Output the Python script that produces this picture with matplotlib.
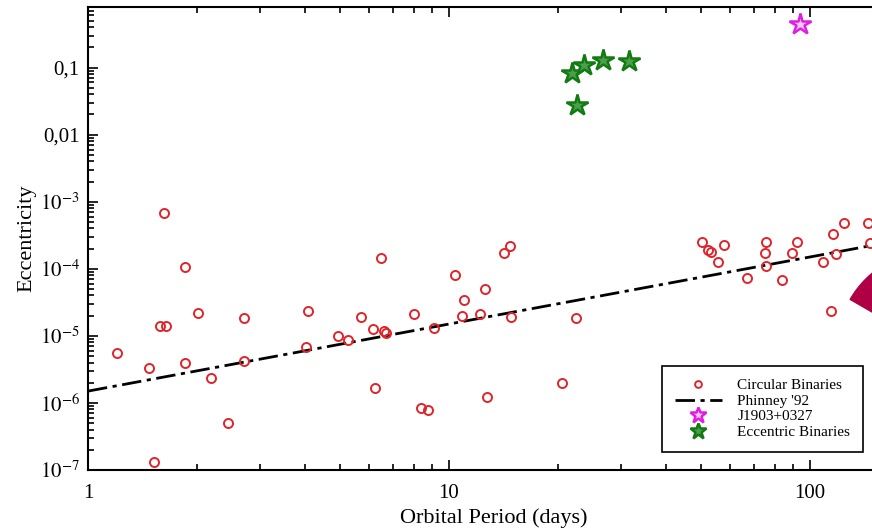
import math
import matplotlib
matplotlib.use("Agg")
import matplotlib.pyplot as plt
from matplotlib.patches import Wedge
from matplotlib.transforms import IdentityTransform
from matplotlib.ticker import LogLocator, FuncFormatter, NullFormatter

plt.rcParams['font.family'] = ['Liberation Serif', 'DejaVu Serif']
plt.rcParams['mathtext.fontset'] = 'stix'

# circular binaries: orbital period (days), eccentricity
circ_p = [1.20, 1.48, 1.58, 1.64, 1.62, 1.86, 1.86, 2.02, 2.19, 2.44, 2.71, 2.71, 1.52,
          6.48, 10.4, 12.6, 11.0, 4.07, 5.71, 8.0, 10.86, 12.2, 14.85, 22.5, 4.02, 4.93,
          5.25, 6.16, 6.6, 6.7, 9.09, 6.24, 8.37, 8.75, 12.74, 20.6, 14.76, 14.2,
          50.2, 52.2, 53.2, 57.8, 55.6, 75.5, 75.0, 75.5, 66.9, 83.6, 92.0, 89.2,
          115.8, 124.2, 144.8, 146.5, 118.0, 108.7, 114.3]
circ_e = [5.6e-6, 3.3e-6, 1.41e-5, 1.41e-5, 6.9e-4, 1.07e-4, 3.95e-6, 2.2e-5, 2.36e-6, 5.0e-7,
          1.86e-5, 4.24e-6, 1.32e-7,
          1.46e-4, 8.1e-5, 5.0e-5, 3.44e-5, 2.36e-5, 1.92e-5, 2.13e-5, 1.99e-5, 2.15e-5,
          1.92e-5, 1.86e-5, 6.86e-6, 1.0e-5, 8.7e-6, 1.27e-5, 1.19e-5, 1.09e-5, 1.32e-5,
          1.67e-6, 8.4e-7, 7.9e-7, 1.23e-6, 1.99e-6, 2.2e-4, 1.73e-4,
          2.53e-4, 1.92e-4, 1.8e-4, 2.28e-4, 1.27e-4, 2.53e-4, 1.73e-4, 1.11e-4, 7.3e-5,
          6.9e-5, 2.53e-4, 1.73e-4, 3.33e-4, 4.87e-4, 4.87e-4, 2.45e-4, 1.67e-4, 1.27e-4,
          2.36e-5]

# eccentric binaries
ecc_p = [21.9, 23.7, 26.7, 31.5, 22.6]
ecc_e = [0.084, 0.111, 0.131, 0.127, 0.028]

# J1903+0327
j1903_p = [93.8]
j1903_e = [0.44]

# Phinney '92 relation, end points
phinney_p = [1.0, 200.0]
phinney_e = [1.5e-6, 3.0e-4]

ytick_vals = [1e-7, 1e-6, 1e-5, 1e-4, 1e-3, 1e-2, 1e-1]


def ylabel_fmt(v, pos):
    if v >= 0.05:
        return '0,1'
    if v >= 0.005:
        return '0,01'
    n = int(round(-math.log10(v)))
    return r'$10^{-%d}$' % n


fig = plt.figure(figsize=(8.72, 5.28), dpi=100)
ax = fig.add_axes([88 / 872, 58 / 528, (900 - 88) / 872, (521 - 58) / 528])

ax.plot(phinney_p, phinney_e, color='black', lw=2.0, dashes=(7, 2, 1.5, 2),
        label="Phinney '92", zorder=2)
ax.plot(circ_p, circ_e, 'o', ls='none', ms=6.5, mfc='none', mec='#e0252a', mew=1.4,
        label='Circular Binaries', zorder=3)
ax.plot(j1903_p, j1903_e, '*', ls='none', ms=16, mfc='#f7c8f7', mec='#e01ee0', mew=1.8,
        label='J1903+0327', zorder=3)
ax.plot(ecc_p, ecc_e, '*', ls='none', ms=16, mfc='#4a9f4a', mec='#137a13', mew=1.8,
        label='Eccentric Binaries', zorder=3)

ax.set_xscale('log')
ax.set_yscale('log')
ax.set_xlim(1, 10 ** ((900 - 88) / 361))
ax.set_ylim(1e-7, 0.8)

ax.set_yticks(ytick_vals)
ax.yaxis.set_major_formatter(FuncFormatter(ylabel_fmt))
ax.yaxis.set_minor_locator(LogLocator(base=10, subs=range(2, 10), numticks=20))
ax.yaxis.set_minor_formatter(NullFormatter())
ax.xaxis.set_major_formatter(FuncFormatter(lambda v, p: '%d' % v))
ax.xaxis.set_minor_formatter(NullFormatter())

ax.tick_params(which='both', direction='in', top=True, right=False, width=1.2)
ax.tick_params(which='major', length=7, labelsize=15, pad=6)
ax.tick_params(axis='x', which='major', pad=10)
ax.tick_params(which='minor', length=4)
for s in ax.spines.values():
    s.set_linewidth(1.5)

ax.set_xlabel('Orbital Period (days)', fontsize=16, labelpad=4)
ax.set_ylabel('Eccentricity', fontsize=16, labelpad=2)

# clipped crimson shape at the right edge
fig.canvas.draw()
cx, cy = ax.transData.transform((222, 6.5e-6))
ax.add_patch(Wedge((cx, cy), 98, 90, 150, transform=IdentityTransform(),
                   color='#b00045', zorder=4, clip_on=False))

handles, labels = ax.get_legend_handles_labels()
order = [1, 0, 2, 3]
leg = ax.legend([handles[i] for i in order], [labels[i] for i in order],
                loc='lower right', bbox_to_anchor=(863 / 872, 76 / 528),
                bbox_transform=fig.transFigure, borderaxespad=0, fontsize=11,
                frameon=True, fancybox=False, framealpha=1, edgecolor='black',
                labelspacing=0.12, handlelength=3.1, borderpad=0.85, handletextpad=1.0,
                markerscale=0.75)
leg.get_frame().set_linewidth(1.2)

fig.savefig('out.png', dpi=100)
